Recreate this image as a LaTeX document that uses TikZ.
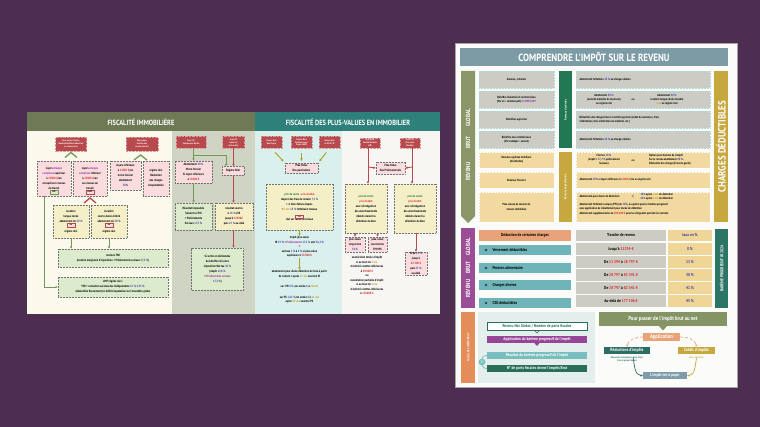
\documentclass[tikz,border=0pt]{standalone}
\usepackage{fontspec}
\newfontfamily\cnd[FakeStretch=0.85]{PT Sans}
\usetikzlibrary{arrows.meta,calc}
\definecolor{cBg}{RGB}{77,45,80}
\definecolor{cCream}{RGB}{250,249,236}
\definecolor{cCol2}{RGB}{207,212,195}
\definecolor{cCyan}{RGB}{217,240,236}
\definecolor{cWhiteL}{RGB}{247,246,243}
\definecolor{cOlive}{RGB}{110,122,86}
\definecolor{cTeal}{RGB}{46,128,122}
\definecolor{cRed}{RGB}{184,74,78}
\definecolor{cPink}{RGB}{250,220,222}
\definecolor{cYel}{RGB}{245,239,200}
\definecolor{cLGreen}{RGB}{219,235,203}
\definecolor{cGline}{RGB}{120,150,90}
\definecolor{cOarrow}{RGB}{175,160,40}
\definecolor{cTxtRed}{RGB}{215,40,40}
\definecolor{cTxtBlue}{RGB}{60,60,170}
\definecolor{cTxtMag}{RGB}{160,40,170}
\definecolor{cTxtGrn}{RGB}{40,110,60}
\definecolor{cTxtYel}{RGB}{185,155,20}
\definecolor{cPanel}{RGB}{251,251,249}
\definecolor{cTitle}{RGB}{124,155,165}
\definecolor{cOliveR}{RGB}{138,150,104}
\definecolor{cGreenBar}{RGB}{34,120,82}
\definecolor{cMustBar}{RGB}{198,168,62}
\definecolor{cGreyRow}{RGB}{204,204,196}
\definecolor{cMustRow}{RGB}{241,217,160}
\definecolor{cPurpleBar}{RGB}{155,78,150}
\definecolor{cSalmon}{RGB}{232,163,120}
\definecolor{cTealBox}{RGB}{110,180,184}
\definecolor{cTabMust}{RGB}{240,214,150}
\definecolor{cBareme}{RGB}{44,116,100}
\definecolor{cOrangeBar}{RGB}{228,140,90}
\definecolor{cCalcBg}{RGB}{228,238,236}
\definecolor{cPurpleBox}{RGB}{150,70,150}
\definecolor{cTealL}{RGB}{120,190,190}
\definecolor{cDkGreen}{RGB}{40,110,90}
\definecolor{cBanner}{RGB}{133,148,100}
\definecolor{cRedTeal}{RGB}{45,110,100}
\definecolor{cNet}{RGB}{125,155,170}
\newcommand\zHead{\cnd\bfseries\fontsize{7.5}{8}\selectfont}
\newcommand\zTitle{\cnd\bfseries\fontsize{10.5}{11}\selectfont}
\newcommand\zRB{\cnd\bfseries\fontsize{2.3}{2.9}\selectfont}
\newcommand\zS{\cnd\bfseries\fontsize{3.1}{5}\selectfont}
\newcommand\zSs{\cnd\bfseries\fontsize{3.1}{4.5}\selectfont}
\newcommand\zR{\cnd\bfseries\fontsize{3}{4.2}\selectfont}
\newcommand\zT{\cnd\bfseries\fontsize{4.2}{5}\selectfont}
\newcommand\zBar{\cnd\bfseries\fontsize{6}{7}\selectfont}
\newcommand\zBig{\cnd\bfseries\fontsize{10.5}{11}\selectfont}
\newcommand\zr[1]{\textcolor{cTxtRed}{#1}}
\newcommand\zb[1]{\textcolor{cTxtBlue}{#1}}
\newcommand\zm[1]{\textcolor{cTxtMag}{#1}}
\newcommand\zg[1]{\textcolor{cTxtGrn}{#1}}
\newcommand\zy[1]{\textcolor{cTxtYel}{#1}}
\tikzset{
 every node/.style={inner sep=0.5pt,outer sep=0pt},
 htitle/.style={text=white,font=\zHead},
 rbox/.style={fill=cRed,draw=cRed!55!white,densely dotted,line width=0.4pt,text=white,font=\zRB,align=center},
 pbox/.style={fill=cPink,draw=black!55,densely dotted,line width=0.5pt,font=\zS,align=center},
 ybox/.style={fill=cYel,draw=black!55,densely dotted,line width=0.5pt,font=\zS,align=center},
 gbox/.style={fill=cLGreen,draw=black!55,densely dotted,line width=0.5pt,font=\zS,align=center},
 tagbox/.style={font=\zRB,inner sep=0.4pt,minimum width=8,minimum height=3.5},
 garrow/.style={draw=cGline,line width=0.9pt,-{Latex[length=2.5pt,width=2.4pt]}},
 rarrow/.style={draw=cRed,line width=0.9pt,-{Latex[length=2.5pt,width=2.4pt]}},
 oarrow/.style={draw=cOarrow,line width=0.9pt,-{Latex[length=2.5pt,width=2.6pt]}},
 greyrow/.style={fill=cGreyRow,draw=cTealL!60!white,densely dotted,line width=0.5pt,font=\zR,align=center},
 mustrow/.style={fill=cMustRow,draw=white,densely dotted,line width=0.5pt,font=\zR,align=center},
 tcell/.style={fill=cGreyRow,font=\zT,minimum height=11.5},
 mcell/.style={fill=cTabMust,font=\zT,text=cTxtBlue,minimum height=11.5},
 barlbl/.style={rotate=90,text=white,font=\zBar},
 cbox/.style={font=\zT,text=white,minimum width=100,minimum height=7.5,inner sep=0.3pt},
 curv/.style={line width=0.7pt,-{Latex[length=2.4pt,width=2.4pt]}}
}
\begin{document}
\begin{tikzpicture}[x=1pt,y=-1pt]
\useasboundingbox (0,0) rectangle (760,427);
\fill[cBg] (0,0) rectangle (760,427);
% ================= LEFT PANEL =================
\fill[cCream] (27,112) rectangle (440,314);
\fill[cCol2] (172,131) rectangle (255,314);
\fill[cCyan] (255,131) rectangle (342,314);
\fill[cWhiteL] (342,131) rectangle (440,314);
\fill[cOlive] (27,112) rectangle (255,131);
\fill[cTeal] (255,112) rectangle (440,131);
\node[htitle] (h1) at (141,122) {FISCALITÉ IMMOBILIÈRE};
\node[htitle] (h2) at (348,122) {FISCALITÉ DES PLUS-VALUES EN IMMOBILIER};
% column 1
\node[rbox,minimum width=31,minimum height=14] (r1) at (71,144) {Pour propre location\\Meublée bénéfices industriels\\et commerciaux};
\node[rbox,minimum width=32,minimum height=14] (r2) at (142,144) {Pour propre\\location nue\\revenus fonciers};
\draw[cGline,line width=1.3pt] (65,157.5) -- (71,152.5) -- (77,157.5);
\draw[cGline,line width=1.3pt] (134,160) -- (140.5,155) -- (147,160);
\node[pbox,minimum width=34,minimum height=35,anchor=north] (p1) at (54,161) {loyers \zm{charges}\\\zm{comprises} supérieur\\à \zr{23000 €}/an\\et supérieur revenus\\du travail};
\node[pbox,minimum width=34,minimum height=35,anchor=north] (p2) at (90,161) {loyers \zm{charges}\\\zm{comprises} inférieur\\à \zr{23000 €}/an\\ou revenus du\\travail};
\node[pbox,minimum width=31,minimum height=29,anchor=north] (p3) at (125.5,161) {loyers inférieurs\\à \zr{15000 €}/an\\micro-foncier\\abattement\\\zb{30\%}};
\node[pbox,minimum width=26,minimum height=35,anchor=north] (p4) at (156,161) {régime réel\\Déduction\\des charges\\d'exploitation};
\node[tagbox,fill=cLGreen,draw=cGline,line width=0.3pt] (tg1) at (54,192) {LMP};
\node[tagbox,fill=cPink,draw=cRed,line width=0.3pt] (tg2) at (90,192) {LMNP};
\draw[cRed,line width=1.3pt] (84,203) -- (90,198) -- (96,203);
\node[ybox,minimum width=36,minimum height=33,anchor=north] (y1) at (71,205) {location\\longue durée\\abattement de \zb{50 \%}\\[1pt]\\[-1pt]régime réel};
\node[ybox,minimum width=36,minimum height=33,anchor=north] (y2) at (109,205) {location\\courte durée Airbnb\\abattement de \zb{30 \%}\\[1pt]\\[-1pt]régime réel};
\node[tagbox,fill=cPink,draw=cRed,line width=0.3pt] (tg3) at (71,225) {ou};
\node[tagbox,fill=cPink,draw=cRed,line width=0.3pt] (tg4) at (109,225) {ou};
\node[gbox,minimum width=110,minimum height=18] (g1) at (113,258) {revenus TMI\\(tranche marginale d'imposition + Prélèvements sociaux \zb{17,2 \%})};
\node[gbox,minimum width=110,minimum height=20] (g2) at (113,287) {LMP régime réel :\\TMI + cotisation sociales des indépendants \zb{15 \% à 35 \%}\\(déductible fiscalement) si déficit imputation sur l'ensemble global};
\draw[garrow] (y1.south) -- (y1.south|-g1.north);
\draw[garrow] (y2.south) -- (y2.south|-g1.north);
\draw[garrow] ($(p1.south west)+(7,0)$) |- (g2.west);
% column 2
\node[rbox,minimum width=30,minimum height=12] (r3) at (191,142.5) {Sous l'IR\\Transparence fiscale};
\node[rbox,minimum width=22,minimum height=12] (r4) at (233.5,142.5) {Sous l'IS\\Impôt sur\\les Sociétés};
\node[pbox,minimum width=37,minimum height=22] (p5) at (193.5,172) {Abattement \zb{30 \%}\\Micro-foncier\\Si loyers inférieurs\\à \zr{15000 €}};
\node[pbox,minimum width=22,minimum height=9] (p6) at (233,171) {Régime Réel};
\node[gbox,minimum width=37,minimum height=27] (g3) at (193.5,216.5) {Résultat imposable\\Suivant la TMI\\+ Prélèvements\\Sociaux \zb{17,2 \%}};
\node[ybox,minimum width=38,minimum height=27] (y5) at (234,216.5) {résultat soumis\\à \zb{15 \%} d'IS\\jusqu'à \zr{42500€}\\puis \zb{25 \%} au-delà};
\node[gbox,minimum width=52,minimum height=42] (d1) at (217.5,269) {Si sortie en dividendes\\du bénéfice Sci alors\\imposition flat tax \zb{30 \%}\\(impôt \zb{12,8 \%}\\+ \zm{Prélèvements sociaux}\\\zb{17,2 \%})};
\draw[garrow] (p5.north|-r3.south) -- (p5.north);
\draw[garrow] ($(p5.north|-r3.south)+(0,6.5)$) -| ($(p6.north west)+(4,0)$);
\draw[garrow] (p5.south) -- (g3.north);
\draw[rarrow] (r4.south) -- (r4.south|-p6.north);
\draw[rarrow] (r4.south|-p6.south) -- (r4.south|-y5.north);
\draw[rarrow] (r4.south|-y5.south) -- (r4.south|-d1.north);
% column 3
\node[rbox,minimum width=21,minimum height=12] (r6) at (271.5,142.5) {Cession bien\\Non Propre};
\node[rbox,minimum width=21,minimum height=12] (r7) at (301.5,142.5) {Cession Bien\\Résidence non\\Propre LMNP};
\node[rbox,minimum width=21,minimum height=12] (r8) at (329.5,142.5) {Cession bien\\en SCI à l'IR};
\node[pbox,minimum width=33,minimum height=10] (pv) at (301.5,168) {Plus-Value\\Des particuliers};
\draw[oarrow,shorten <=5pt,shorten >=2pt] (r6.south) -- (pv.north west);
\draw[oarrow,shorten <=5pt,shorten >=2pt] (r7.south) -- (pv.north);
\draw[oarrow,shorten <=5pt,shorten >=2pt] (r8.south) -- (pv.north east);
\node[ybox,minimum width=67,minimum height=46,anchor=north] (y3) at (299.5,184) {\zg{prix de vente} - \zr{prix d'achat}\\majoré des frais de notaire \zb{7,5 \%}\\+ si bien détenu depuis\\+ \zy{5 ans} \zb{15 \%} forfaitaire travaux\\[1.3pt]\\[-1pt]réel sur factures travaux};
\node[tagbox,fill=cPink,draw=cRed,line width=0.3pt] (tg5) at (299.5,216.5) {ou};
\node[font=\zSs,align=center,anchor=north] (ta) at (299.5,236) {Impôt plus-value\\IR \zb{19 \%} + \zm{Prélèvements} \zb{17,2 \%} soit \zb{36,2 \%}\\+\\surtaxe \zb{2 \%} à \zb{6 \%} si plus-value\\supérieure à \zr{50 000 €}};
\node[font=\zSs,align=center,anchor=north] (tb) at (299.5,270) {abattement pour durée détention de bien à partir\\de l'année \zb{6} après \zy{22 ans} exonéré IR\\[6pt]sur l'IR \zb{6 \%} /an année \zb{6} à \zy{21ème}\\[6pt]sur PS \zb{1,65 \%}/an année \zb{6} à \zy{21 ans}\\après \zy{30 ans} exonéré PS};
\draw[oarrow] (y3.south) -- (ta.north);
\draw[oarrow] (ta.south) -- (tb.north);
% column 4
\node[rbox,minimum width=20,minimum height=10] (r9) at (370,143) {Plus-Value\\Société Meublée\\LMP};
\node[rbox,minimum width=20,minimum height=10] (r10) at (410,143) {Sous l'IS\\Plus-value\\Meublée};
\node[pbox,minimum width=29,minimum height=12] (p7) at (390.5,168) {Plus-Value\\Des Professionnels};
\node[ybox,minimum width=42,minimum height=49,anchor=north] (y4) at (366,184) {\zg{prix de vente}\\\zr{prix d'achat}\\avec réintégration\\des amortissements\\déduits durant la\\détention du bien};
\node[ybox,minimum width=42,minimum height=49,anchor=north] (y6) at (415,184) {\zg{prix de vente}\\\zr{prix d'achat}\\avec réintégration\\des amortissements\\déduits durant la\\détention du bien};
\draw[rarrow] (368,148) -- (368,184);
\draw[rarrow] (412,148) -- (412,184);
\draw[rarrow] (368,167) -- (p7.west);
\draw[rarrow] (412,167) -- (p7.east);
\node[pbox,minimum width=20,minimum height=15] (p8) at (355,244.5) {plus-value\\long terme\\\zb{34 \%}};
\node[pbox,minimum width=19,minimum height=15] (p9) at (377.5,244.5) {plus-value\\court terme\\TMI+PS};
\node[pbox,minimum width=22,minimum height=19] (p10) at (416,263.5) {IS de \zb{15 \%}\\jusqu'à\\\zr{42 500 €}\\puis \zb{25 \%}\\au-delà};
\draw[rarrow] (p8.north|-y4.south) -- (p8.north);
\draw[rarrow] (p9.north|-y4.south) -- (p9.north);
\draw[rarrow] (p10.north|-y6.south) -- (p10.north);
\node[font=\zSs,align=center,anchor=north] (tc) at (367,256) {exonération totale d'impôt\\si au bout de \zy{5 ans}\\d'activité recettes inférieures\\à \zr{90 000 €}\\ou\\exonération partielle d'impôt\\si au bout de \zy{5 ans}\\d'activité recettes inférieures\\à \zr{126000 €}};
% ================= RIGHT PANEL =================
\fill[cPanel] (455,43) rectangle (737,387);
\draw[black!35,line width=0.8pt] (455,43) rectangle (737,387);
\fill[cTitle] (460,48) rectangle (728,66);
\node[text=white,font=\zTitle] (title) at (594,57.5) {COMPRENDRE L'IMPÔT SUR LE REVENU};
% bars
\fill[cOliveR] (461,71) -- (475,71) -- (475,216) -- (468,223) -- (461,216) -- cycle;
\node[barlbl] (lb1) at (468,145) {REVENU\hspace{14pt}BRUT\hspace{10pt}GLOBAL};
\fill[cGreenBar] (559,71) rectangle (572,148);
\node[rotate=90,text=white,font=\zR] (lb2) at (565.5,110) {Revenus d'activités};
\fill[cMustBar] (559,152) rectangle (572,222);
\node[rotate=90,text=white,font=\zR] (lb3) at (565.5,187) {Revenus du patrimoine};
\fill[cMustBar] (714,71) rectangle (728,222);
\node[rotate=90,text=white,font=\zBig] (lb4) at (721,146.5) {CHARGES DÉDUCTIBLES};
% rows left
\node[greyrow,minimum width=75,minimum height=17] (a1) at (516.5,79.5) {Salaires, retraites};
\node[greyrow,minimum width=75,minimum height=17] (a2) at (516.5,99.5) {Bénéfice industriel et commerciaux\\(Par ex : commerçant) = \zm{LMNP/LMP}};
\node[greyrow,minimum width=75,minimum height=17] (a3) at (516.5,119.5) {Bénéfices agricoles};
\node[greyrow,minimum width=75,minimum height=17] (a4) at (516.5,139.5) {Bénéfice non commerciaux\\(Par exemple : avocat)};
\node[mustrow,minimum width=75,minimum height=16] (a5) at (516.5,160) {Revenus capitaux mobiliers\\(dividendes)};
\node[mustrow,minimum width=75,minimum height=16] (a6) at (516.5,180) {Revenus Fonciers};
\node[mustrow,minimum width=75,minimum height=30] (a7) at (516.5,207) {Plus-values de cession de\\valeurs mobilières};
% rows right
\node[greyrow,minimum width=134,minimum height=17] (b1) at (643,79.5) {};
\node[font=\zR,anchor=west] (b1t) at (579,79.5) {Abattement forfaitaire \zb{10 \%} ou charges réelles};
\node[greyrow,minimum width=134,minimum height=17] (b2) at (643,99.5) {};
\node[font=\zR,align=center] (b2l) at (604,99.5) {Abattement \zb{30 \%}\\(activité meublée de tourisme)\\ou régime réel};
\node[font=\zR] (b2o) at (633,100) {ou};
\node[font=\zR,align=center] (b2r) at (667,99.5) {Abattement \zb{50 \%}\\location longue durée meublé\\\zy{1 an} ou régime réel};
\node[greyrow,minimum width=134,minimum height=17] (b3) at (643,119.5) {};
\node[font=\zR,align=left,anchor=west] (b3t) at (579,119.5) {Déduction des charges liées à l'activité agricole (achat de semences, frais\\vétérinaires, frais d'entretien du matériel, etc.)};
\node[greyrow,minimum width=134,minimum height=17] (b4) at (643,139.5) {};
\node[font=\zR,anchor=west] (b4t) at (579,139.5) {Abattement forfaitaire \zb{10 \%} ou charges réelles};
\node[mustrow,minimum width=134,minimum height=16] (b5) at (643,160) {};
\node[font=\zR,align=center] (b5l) at (604,160) {Flat tax \zb{30 \%}\\(impôt + \zb{17,2 \%} prélèvement\\Sociaux)};
\node[font=\zR] (b5o) at (633,161) {ou};
\node[font=\zR,align=left] (b5r) at (670,160) {Option pour barème de l'impôt\\Sur le revenu abattement \zb{40 \%}.\\Déduction des charges(Frais de garde)};
\node[mustrow,minimum width=134,minimum height=16] (b6) at (643,180) {};
\node[font=\zR,anchor=west] (b6t) at (579,180) {Abattement \zb{30\%} si loyers inférieurs à \zr{15000 €}/an ou régime réel};
\node[mustrow,minimum width=134,minimum height=30] (b7) at (643,207) {};
\node[font=\zR,anchor=west] (b7a) at (579,196.5) {Abattement pour durée de détention};
\node[font=\fontsize{6}{6}\selectfont\cnd,text=cTxtBlue] (b7lt) at (633,196.5) {<};
\node[font=\zR,align=left,anchor=west] (b7b) at (640,196.5) {\zb{50\%} après \zy{2 ans} de détention\\\zb{65\%} après \zy{8 ans} de détention};
\node[font=\zR,align=left,anchor=north west] (b7c) at (579,203) {Abattement forfaitaire unique (PFU) de \zb{30\%}, ou option pour le barème progressif\\avec application de l'abattement pour durée de détention\\Abattement supplémentaire de \zr{500 000 €} pour les dirigeants partant à la retraite};
% brut global
\fill[cPurpleBar] (461,228) rectangle (475,308);
\node[barlbl] (lb5) at (468,268) {REVENU\hspace{6pt}BRUT\hspace{6pt}GLOBAL};
\node[fill=cSalmon,minimum width=92,minimum height=11,font=\zT] (c0) at (525,235.5) {Déduction de certaines charges};
\node[fill=cTealBox,minimum width=92,minimum height=10] (c1) at (525,250) {};
\node[fill=cTealBox,minimum width=92,minimum height=10] (c2) at (525,268) {};
\node[fill=cTealBox,minimum width=92,minimum height=10] (c3) at (525,285) {};
\node[fill=cTealBox,minimum width=92,minimum height=10] (c4) at (525,303) {};
\foreach \yy/\nm/\txtv in {250/c1t/Versement déductibles,268/c2t/Pension alimentaire,285/c3t/Charges diverse,303/c4t/CSG déductibles}{
  \node[circle,fill=black!75,minimum size=2.6,inner sep=0pt] (\nm d) at (486,\yy) {};
  \node[font=\zT,anchor=west] (\nm) at (492,\yy) {\txtv};
}
% table
\node[tcell,minimum width=90] (k0) at (621,235.5) {Tranche de revenu};
\node[mcell,minimum width=44] (m0) at (690,235.5) {taux en \%};
\node[tcell,minimum width=90] (k1) at (621,249) {Jusqu'à \zr{11294 €}};
\node[mcell,minimum width=44] (m1) at (690,249) {0 \%};
\node[tcell,minimum width=90] (k2) at (621,262) {De \zr{11 294} à \zr{28 797 €}};
\node[mcell,minimum width=44] (m2) at (690,262) {11 \%};
\node[tcell,minimum width=90] (k3) at (621,275) {De \zr{28 797} à \zr{82 341 €}};
\node[mcell,minimum width=44] (m3) at (690,275) {30 \%};
\node[tcell,minimum width=90] (k4) at (621,288) {De \zr{28 797} à \zr{82 341 €}};
\node[mcell,minimum width=44] (m4) at (690,288) {41 \%};
\node[tcell,minimum width=90] (k5) at (621,301) {Au-delà de \zr{177 106 €}};
\node[mcell,minimum width=44] (m5) at (690,301) {45 \%};
\fill[cBareme] (715,229) rectangle (728,308);
\node[rotate=90,text=white,font=\zT] (lb6) at (721.5,268.5) {BARÈME PROGRESSIF IR 2024};
% calcul
\fill[cOrangeBar] (461,312) rectangle (475,383);
\node[rotate=90,text=white,font=\zR] (lb7) at (468,347.5) {CALCUL DE L'IMPÔT BRUT};
\fill[cCalcBg] (478,312) rectangle (595,383);
\node[cbox,fill=white,draw=cDkGreen,line width=0.5pt,text=cDkGreen] (e1) at (537,326.5) {Revenu Net Global / Nombre de parts fiscales};
\draw[cDkGreen,line width=0.6pt] (534.5,330.5) -- (537,333) -- (539.5,330.5);
\node[cbox,fill=cPurpleBox] (e2) at (537,339.5) {Application du barème progressif de l'impôt};
\fill[cPurpleBox] (534.5,343.2) -- (539.5,343.2) -- (537,346) -- cycle;
\node[cbox,fill=cTealL] (e3) at (537,355.5) {Résultat du barème progressif de l'impôt};
\node[cbox,fill=cDkGreen] (e4) at (537,368.5) {N° de parts fiscales donne l'impôts Brut};
\node[circle,fill=cTealL,text=white,minimum size=5.5,inner sep=0pt,font=\fontsize{4.5}{4.5}\selectfont] (xm) at (482,362) {$\times$};
\draw[cTealL,line width=0.7pt] (e3.west) to[out=180,in=90] (xm.north);
\draw[cTealL,line width=0.7pt] (xm.south) to[out=-90,in=180] (e4.west);
% brut to net
\fill[cBanner] (599,312) rectangle (727,326);
\fill[cBanner] (659,326) -- (667,326) -- (663,330.5) -- cycle;
\node[text=white,font=\cnd\bfseries\fontsize{5.6}{6}\selectfont] (bn) at (663,319) {Pour passer de l'impôt brut au net};
\node[fill=cSalmon,text=white,font=\cnd\bfseries\fontsize{5.5}{6}\selectfont,minimum width=37,minimum height=8] (ap) at (661.5,337) {Application};
\node[fill=cRedTeal,text=white,font=\cnd\bfseries\fontsize{4.5}{5}\selectfont,minimum width=46,minimum height=7] (rd) at (627,350.5) {Réductions d'impôts};
\node[font=\cnd\bfseries\fontsize{2.4}{3.2}\selectfont,text=cRedTeal,align=center] (rdt) at (627,359.5) {Rénovation énergétique, dons, Pinel,\\frais de garde d'enfant};
\node[fill=cMustBar,text=white,font=\cnd\bfseries\fontsize{4.5}{5}\selectfont,minimum width=37,minimum height=7] (cr) at (696.5,350.5) {Crédit d'impôts};
\node[font=\cnd\bfseries\fontsize{2.4}{3.2}\selectfont,text=cMustBar] (crt) at (696.5,358) {Dons, aide Pinel};
\node[fill=cNet,text=white,font=\cnd\bfseries\fontsize{4.2}{5}\selectfont,minimum width=44,minimum height=7] (net) at (665,375.5) {L'impôt net à payer};
\draw[curv,cSalmon,densely dashed] (ap.west) to[out=180,in=80] (rd.north);
\draw[curv,cSalmon,densely dashed] (ap.east) to[out=0,in=100] (cr.north);
\draw[curv,cRedTeal] ($(rd.south)+(6,3)$) to[out=-80,in=180] (net.west);
\draw[curv,cMustBar] ($(cr.south)+(0,4)$) to[out=-100,in=0] (net.east);
\end{tikzpicture}
\end{document}
